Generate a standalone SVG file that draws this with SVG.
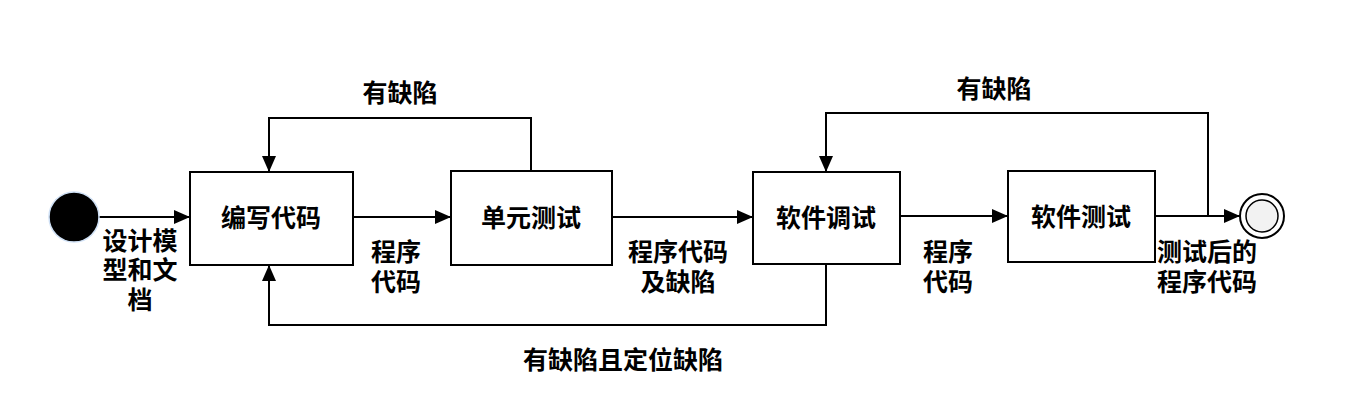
<svg xmlns="http://www.w3.org/2000/svg" width="1365" height="417" viewBox="0 0 1365 417">
<style>
.box{fill:#fff;stroke:#000;stroke-width:2}
.ln{fill:none;stroke:#000;stroke-width:2}
text{font-family:"Noto Sans CJK SC","Noto Sans",sans-serif;font-weight:bold;font-size:25px;fill:#000;text-anchor:middle}
</style>
<defs>
<marker id="ar" markerWidth="16" markerHeight="14" refX="16" refY="7" orient="auto" markerUnits="userSpaceOnUse">
<path d="M0,0 L16,7 L0,14 Z" fill="#000"/>
</marker>
</defs>
<rect width="1365" height="417" fill="#fff"/>
<g id="connectors">
<path class="ln" d="M99,217 H190" marker-end="url(#ar)"/>
<path class="ln" d="M353,217 H451" marker-end="url(#ar)"/>
<path class="ln" d="M612,217 H753" marker-end="url(#ar)"/>
<path class="ln" d="M900,216 H1008" marker-end="url(#ar)"/>
<path class="ln" d="M1155,216 H1240" marker-end="url(#ar)"/>
<path class="ln" d="M531,171 V118 H269 V172" marker-end="url(#ar)"/>
<path class="ln" d="M1208,216 V113 H826 V172" marker-end="url(#ar)"/>
<path class="ln" d="M826,264 V325 H269 V265" marker-end="url(#ar)"/>
<text x="400" y="102">有缺陷</text>
<text x="994" y="98">有缺陷</text>
<text x="140" y="250">设计模</text>
<text x="140" y="279">型和文</text>
<text x="140" y="309">档</text>
<text x="396" y="261">程序</text>
<text x="396" y="291">代码</text>
<text x="678" y="261">程序代码</text>
<text x="678" y="291">及缺陷</text>
<text x="948" y="261">程序</text>
<text x="948" y="291">代码</text>
<text x="1207" y="261">测试后的</text>
<text x="1207" y="291">程序代码</text>
<text x="623" y="369">有缺陷且定位缺陷</text>
</g>
<g id="start">
<circle cx="74" cy="217" r="25" fill="#000" stroke="#cfe0f5" stroke-width="1.5"/>
</g>
<g id="n1">
<rect class="box" x="190" y="172" width="163" height="93"/>
<text x="271" y="227">编写代码</text>
</g>
<g id="n2">
<rect class="box" x="451" y="171" width="161" height="94"/>
<text x="531" y="227">单元测试</text>
</g>
<g id="n3">
<rect class="box" x="753" y="172" width="147" height="92"/>
<text x="826" y="227">软件调试</text>
</g>
<g id="n4">
<rect class="box" x="1008" y="171" width="147" height="91"/>
<text x="1081" y="226">软件测试</text>
</g>
<g id="end">
<circle cx="1262" cy="216" r="22" fill="#fff" stroke="#000" stroke-width="2"/>
<circle cx="1262" cy="216" r="16" fill="#f2f2f2" stroke="#000" stroke-width="1.5"/>
</g>
</svg>
